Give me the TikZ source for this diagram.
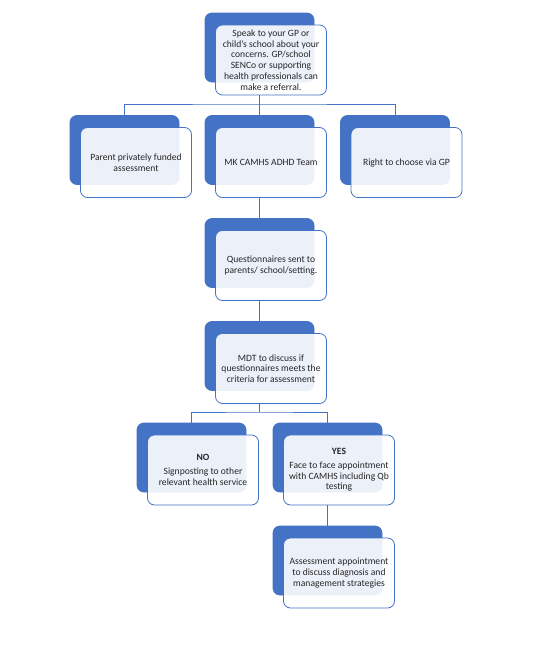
\documentclass[tikz,border=0pt]{standalone}
\usepackage{fontspec}
\setmainfont{Carlito}
\definecolor{sblue}{HTML}{4472C4}
\begin{document}
\begin{tikzpicture}[x=1pt,y=-1pt,
  back/.style={draw=sblue, fill=sblue, rounded corners=7pt, minimum width=109pt, minimum height=69pt, inner sep=0pt, line width=0.8pt},
  front/.style={draw=sblue, fill=white, fill opacity=0.9, text opacity=1, rounded corners=7pt, minimum width=111pt, minimum height=70pt, inner sep=1pt, align=center, font=\fontsize{9.6}{10.7}\selectfont, text=black!85, line width=0.8pt},
  link/.style={draw=sblue, line width=0.9pt}]
\useasboundingbox (0,0) rectangle (550,646);
% top
\node[back] (b1) at (259.5,47.5) {};
\node[front] (f1) at (271,60) {Speak to your GP or\\child's school about your\\concerns. GP/school\\SENCo or supporting\\health professionals can\\make a referral.};
% row 2
\node[back] (b2) at (124.5,150) {};
\node[front] (f2) at (136,162.5) {Parent privately funded\\assessment};
\node[back] (b3) at (259.5,150) {};
\node[front] (f3) at (271,162.5) {MK CAMHS ADHD Team};
\node[back] (b4) at (395,150) {};
\node[front] (f4) at (406.5,162.5) {Right to choose via GP};
% questionnaires
\node[back] (b5) at (259.5,253) {};
\node[front] (f5) at (271,265.5) {Questionnaires sent to\\parents/ school/setting.};
% MDT
\node[back] (b6) at (259.5,356) {};
\node[front] (f6) at (271,368.5) {MDT to discuss if\\questionnaires meets the\\criteria for assessment};
% NO / YES
\node[back] (b7) at (191.5,457.5) {};
\node[front] (f7) at (203,470) {\textbf{NO}\\[3pt]Signposting to other\\relevant health service};
\node[back] (b8) at (327.5,457.5) {};
\node[front] (f8) at (339,470) {\textbf{YES}\\[3pt]Face to face appointment\\with CAMHS including Qb\\testing};
% assessment
\node[back] (b9) at (327.5,560.5) {};
\node[front] (f9) at (339,573) {Assessment appointment\\to discuss diagnosis and\\management strategies};
% connectors
\coordinate (bus1) at (259.5,104);
\coordinate (bus2) at (259.5,412);
\draw[link] (b1.center |- f1.south) -- (b3.north);
\draw[link] (b2.north) |- (bus1) -| (b4.north);
\draw[link] (b3.center |- f3.south) -- (b5.north);
\draw[link] (b5.center |- f5.south) -- (b6.north);
\draw[link] (b6.center |- f6.south) -- (bus2);
\draw[link] (b7.north) |- (bus2) -| (b8.north);
\draw[link] (b8.center |- f8.south) -- (b9.north);
\end{tikzpicture}
\end{document}
